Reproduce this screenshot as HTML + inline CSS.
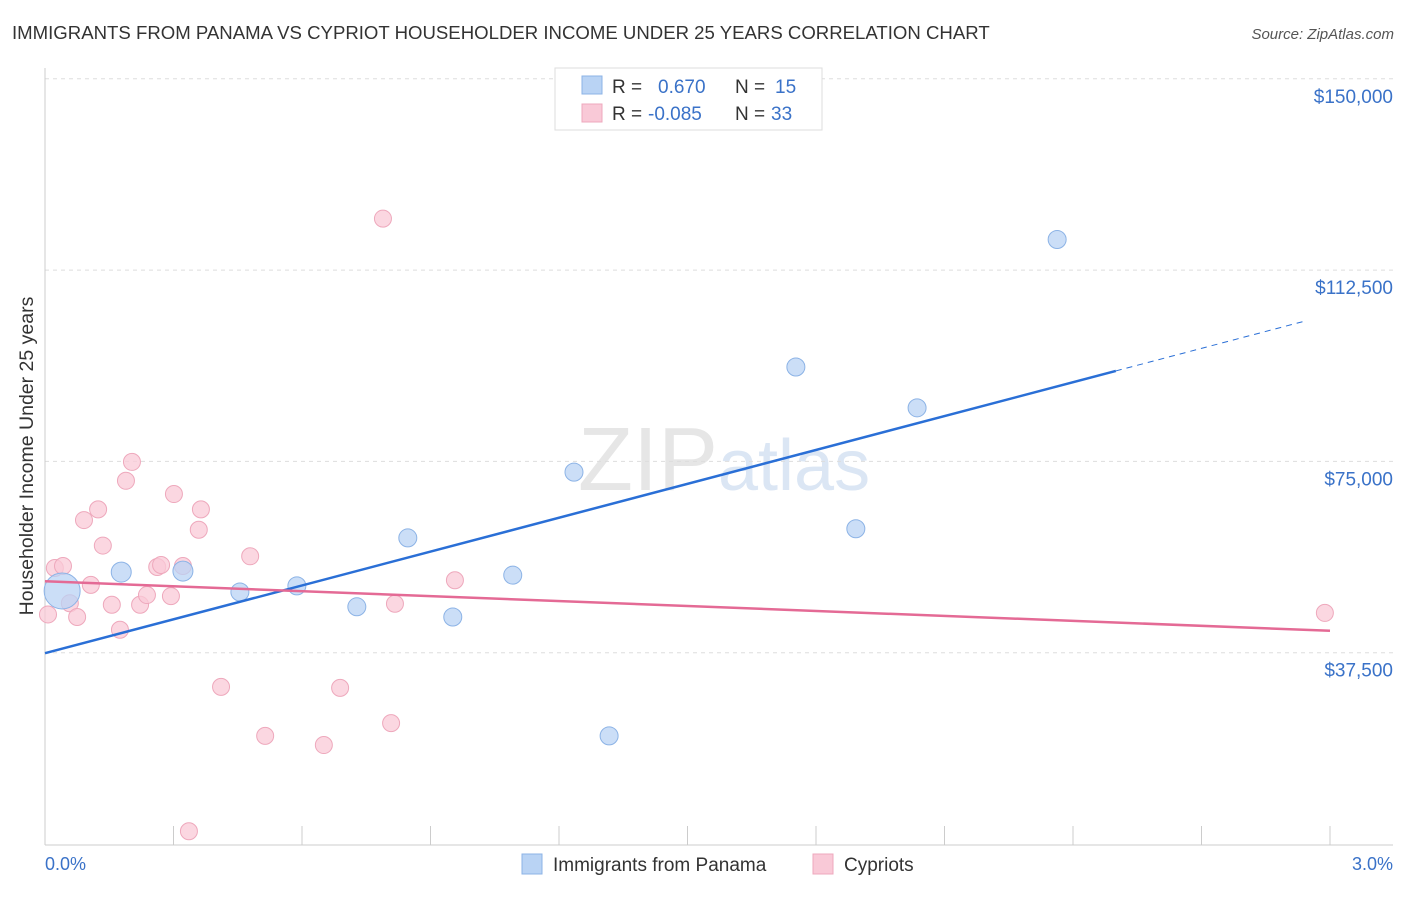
<!DOCTYPE html>
<html><head><meta charset="utf-8"><style>
body{margin:0;background:#fff;font-family:"Liberation Sans",sans-serif;}
svg text{font-family:"Liberation Sans",sans-serif;}
</style></head><body>
<svg id="chart" width="1406" height="892" viewBox="0 0 1406 892" xmlns="http://www.w3.org/2000/svg">
<text x="12" y="39" font-size="18.6" fill="#333">IMMIGRANTS FROM PANAMA VS CYPRIOT HOUSEHOLDER INCOME UNDER 25 YEARS CORRELATION CHART</text>
<text x="1394" y="39" font-size="15" fill="#555" font-style="italic" text-anchor="end">Source: ZipAtlas.com</text>
<text x="718" y="490" font-size="90" fill="#e6e6e6" text-anchor="end" font-family="Liberation Serif">ZIP</text>
<text x="718" y="490" font-size="72" fill="#dbe6f4">atlas</text>
<g id="grid"></g>
<line x1="45" y1="68" x2="45" y2="845" stroke="#ccc"/>
<line x1="45" y1="845" x2="1393" y2="845" stroke="#ccc"/>
<g id="xticks"></g>
<g id="ylabels"></g>
<text transform="translate(33,456) rotate(-90)" font-size="19.5" fill="#333" text-anchor="middle">Householder Income Under 25 years</text>
<text x="45" y="870" font-size="18" fill="#3a72c8">0.0%</text>
<text x="1393" y="870" font-size="18" fill="#3a72c8" text-anchor="end">3.0%</text>
<g id="points"></g>
<g id="lines"></g>
<g>
<rect x="555" y="68" width="267" height="62" fill="#fff" stroke="#ddd"/>
<rect x="582" y="76" width="20" height="18" fill="#b9d3f4" stroke="#8cb3e6"/>
<rect x="582" y="104" width="20" height="18" fill="#f9c9d7" stroke="#eea8bc"/>
<text x="612" y="93" font-size="19" fill="#333">R =</text>
<text x="658" y="93" font-size="19" fill="#3a72c8">0.670</text>
<text x="735" y="93" font-size="19" fill="#333">N =</text>
<text x="775" y="93" font-size="19" fill="#3a72c8">15</text>
<text x="612" y="120" font-size="19" fill="#333">R =</text>
<text x="648" y="120" font-size="19" fill="#3a72c8">-0.085</text>
<text x="735" y="120" font-size="19" fill="#333">N =</text>
<text x="771" y="120" font-size="19" fill="#3a72c8">33</text>
</g>
<g>
<rect x="522" y="854" width="20" height="20" fill="#b9d3f4" stroke="#8cb3e6"/>
<text x="553" y="871" font-size="19" fill="#333">Immigrants from Panama</text>
<rect x="813" y="854" width="20" height="20" fill="#f9c9d7" stroke="#eea8bc"/>
<text x="844" y="871" font-size="19" fill="#333">Cypriots</text>
</g>
</svg>
<script>
const yTicks=[37500,75000,112500,150000];
const yTickLabels=["$37,500","$75,000","$112,500","$150,000"];
const blueX=[0.04,0.178,0.322,0.455,0.588,0.728,0.847,0.952,1.092,1.235,1.317,1.753,1.893,2.036,2.363];
const blueY=[49600,53300,53500,49400,50600,46500,60000,44500,52700,72900,21200,93500,61800,85500,118500];
const blueSize=[18,10,10,9,9,9,9,9,9,9,9,9,9,9,9];
const pinkX=[0.007,0.023,0.042,0.058,0.075,0.091,0.107,0.124,0.135,0.156,0.175,0.189,0.203,0.222,0.238,0.262,0.271,0.294,0.301,0.322,0.359,0.364,0.411,0.479,0.514,0.651,0.689,0.789,0.808,0.817,0.957,0.336,2.988];
const pinkY=[45000,54100,54500,47200,44500,63500,50800,65600,58500,46900,42000,71200,74900,46900,48800,54300,54700,48600,68600,54500,61600,65600,30800,56400,21200,19400,30600,122600,23700,47100,51700,2500,45300];
const trendBlue=[37400,103800];   // values at 0% and 3%
const trendPink=[51500,41800];
const X=v=>45+v/3*1285, Y=v=>844-v/37500*191.3;
const NS="http://www.w3.org/2000/svg";
function mk(t,a,p){const e=document.createElementNS(NS,t);for(const k in a)e.setAttribute(k,a[k]);p.appendChild(e);return e;}
const grid=document.getElementById('grid'),yl=document.getElementById('ylabels'),xt=document.getElementById('xticks'),pts=document.getElementById('points'),ln=document.getElementById('lines');
yTicks.forEach((t,i)=>{
 const g=mk('line',{x1:45,x2:1393,y1:Y(t),y2:Y(t),stroke:'#ddd','stroke-dasharray':'4,4'},grid);
 
 
 const tx=mk('text',{x:1393,y:Y(t)+24,'font-size':19,fill:'#3a72c8','text-anchor':'end'},yl);
 tx.textContent=yTickLabels[i];
 
 
});
for(let i=1;i<=10;i++){
 const l=mk('line',{x1:X(i*0.3),x2:X(i*0.3),y1:826,y2:845,stroke:'#ccc'},xt);
 
 
}
pinkX.forEach((x,i)=>{
 const c=mk('circle',{cx:X(x),cy:Y(pinkY[i]),r:8.5,fill:'#f9c9d7','fill-opacity':0.75,stroke:'#eea8bc','stroke-width':1},pts);
 
 
});
blueX.forEach((x,i)=>{
 const c=mk('circle',{cx:X(x),cy:Y(blueY[i]),r:blueSize[i],fill:'#b9d3f4','fill-opacity':0.75,stroke:'#8cb3e6','stroke-width':1},pts);
 
 
});
const bAt=x=>trendBlue[0]+(trendBlue[1]-trendBlue[0])*x/3;
const b1=mk('line',{x1:X(0),y1:Y(bAt(0)),x2:X(2.5),y2:Y(bAt(2.5)),stroke:'#2a6fd6','stroke-width':2.5},ln);


const b2=mk('line',{x1:X(2.5),y1:Y(bAt(2.5)),x2:X(2.94),y2:Y(bAt(2.94)),stroke:'#2a6fd6','stroke-width':1,'stroke-dasharray':'6,5'},ln);


const p1=mk('line',{x1:X(0),y1:Y(trendPink[0]),x2:X(3),y2:Y(trendPink[1]),stroke:'#e46a95','stroke-width':2.5},ln);


</script>
</body></html>
